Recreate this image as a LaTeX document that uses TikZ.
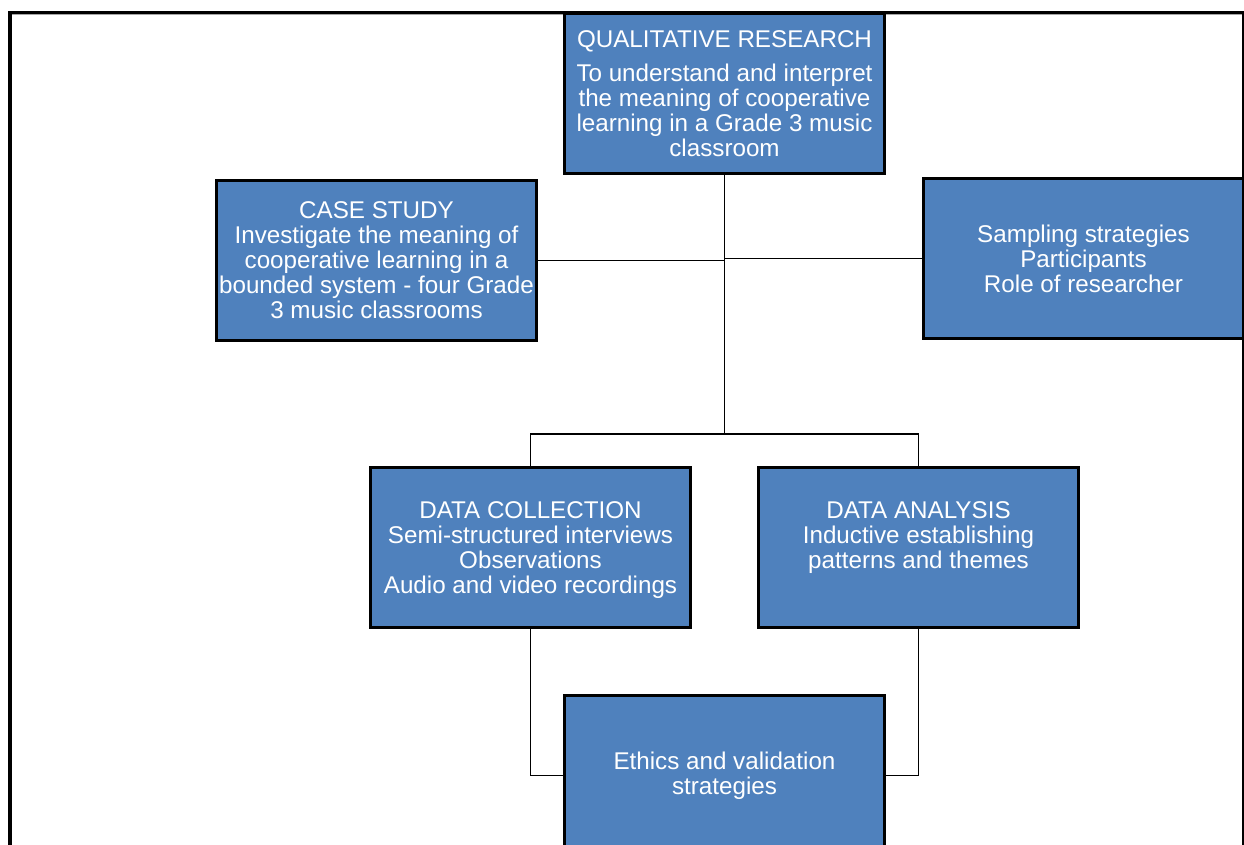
\documentclass[tikz,border=0pt]{standalone}
\usepackage{fontspec}
\setmainfont{Liberation Sans}
\usetikzlibrary{calc}
\definecolor{boxblue}{HTML}{4F81BD}
\begin{document}
\begin{tikzpicture}[x=1pt,y=-1pt,
  box/.style={draw=black, line width=3pt, fill=boxblue, text=white, align=center,
    minimum width=320pt, minimum height=160pt, inner sep=0pt, anchor=north west,
    font=\fontsize{24.2}{25}\selectfont},
  link/.style={draw=black, line width=1.8pt},
  frameline/.style={draw=black}]
\clip (0,0) rectangle (1244,845);
\fill[white] (0,0) rectangle (1244,845);

% page frame
\draw[frameline, line width=1.2pt] (1243,13) -- (1243,845);
\draw[gray!70, line width=1pt] (12,15) -- (1242,15);
\draw[frameline, line width=3pt] (8,13) -- (1244,13);
\draw[frameline, line width=4pt] (10,845) -- (10,11.5);

\begin{scope}[shift={(-1.5,-1.5)}]
% boxes
\node[box, minimum height=160pt] (qual) at (564.5,13.5)
  {QUALITATIVE RESEARCH\\[9pt]To understand and interpret\\the meaning of cooperative\\learning in a Grade 3 music\\classroom};
\node[box] (case) at (216.5,180.5)
  {CASE STUDY\\Investigate the meaning of\\cooperative learning in a\\bounded system - four Grade\\3 music classrooms};
\node[box] (samp) at (923.5,178.5)
  {Sampling strategies\\Participants\\Role of researcher};
\node[box, text depth=-4pt] (coll) at (370.5,467.5)
  {DATA COLLECTION\\Semi-structured interviews\\Observations\\Audio and video recordings};
\node[box, text depth=-4pt] (anal) at (758.5,467.5)
  {DATA ANALYSIS\\Inductive establishing\\patterns and themes\\\mbox{}};
\node[box] (eth) at (564.5,695.5)
  {Ethics and validation\\strategies};

% connectors
\coordinate (hub) at ($(qual.south)+(0,259)$);
\draw[link] (qual.south) -- (hub);
\draw[link] (case.east) -- (case.east -| qual.south);
\draw[link] (samp.west) -- (samp.west -| qual.south);
\draw[link] (coll.north) -- (coll.north |- hub) -- (anal.north |- hub) -- (anal.north);
\draw[link] (coll.south) |- (eth.west);
\draw[link] (anal.south) |- (eth.east);
\end{scope}
\end{tikzpicture}
\end{document}
